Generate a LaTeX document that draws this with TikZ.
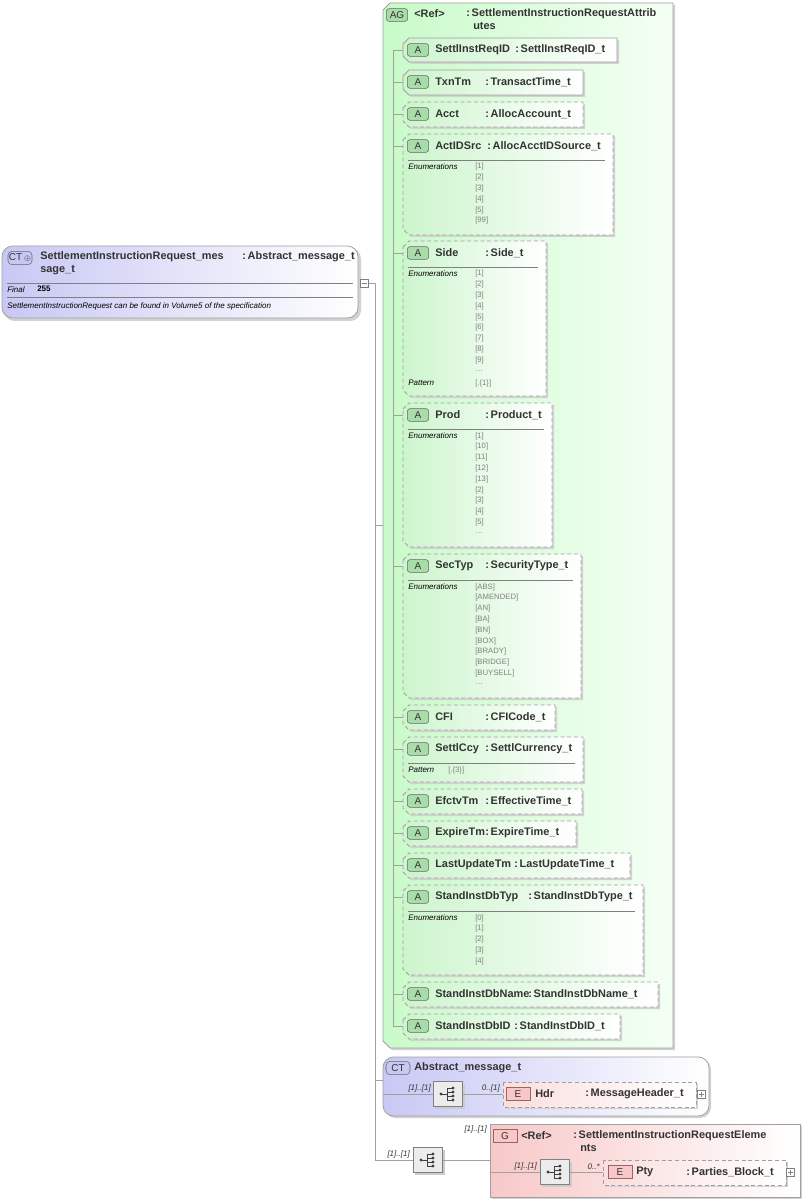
\documentclass[tikz,border=0pt]{standalone}
\usepackage{fontspec}
\setmainfont{Liberation Sans}
\definecolor{txt}{HTML}{333333}
\definecolor{attrL}{HTML}{CDF5CD}
\definecolor{tagG}{HTML}{A8DCA8}
\definecolor{ctL}{HTML}{C8C8F5}
\definecolor{pinkL}{HTML}{F8C8C8}
\definecolor{lineg}{HTML}{A0A0A0}
\tikzset{
 lbl/.style={anchor=west,inner sep=0pt,font=\fontsize{8.2}{9}\selectfont\bfseries,text=txt},
 sml/.style={anchor=west,inner sep=0pt,font=\fontsize{6}{6.8}\selectfont\itshape,text=black},
 enumv/.style={anchor=west,inner sep=0pt,font=\fontsize{5.8}{6.4}\selectfont,text=gray},
 conn/.style={draw=lineg,line width=0.5pt},
 sepl/.style={draw=gray,line width=0.4pt},
 dashbox/.style={draw=lineg,dash pattern=on 3pt off 2pt,line width=0.6pt},
 solbox/.style={draw=lineg,line width=0.6pt},
 tagA/.style={draw=gray!80!black,fill=tagG,rounded corners=2pt,minimum width=16pt,minimum height=9.5pt,inner sep=0pt,font=\fontsize{7.5}{8}\selectfont,text=txt},
 tagE/.style={draw=gray!80!red,fill=pinkL,minimum width=18pt,minimum height=10pt,inner sep=0pt,font=\fontsize{7.5}{8}\selectfont,text=txt},
 tagCT/.style={draw=gray!80!black,fill=ctL,rounded corners=3pt,minimum width=18pt,minimum height=10pt,inner sep=0pt,font=\fontsize{7.5}{8}\selectfont,text=txt},
 seqbox/.style={draw=gray,fill=gray!15,minimum width=22pt,minimum height=19pt,inner sep=0pt},
 card/.style={inner sep=0pt,font=\fontsize{6}{6.8}\selectfont\itshape,text=txt},
}
\newcommand\attr[8]{%
 \fill[gray!35] (405,#4+8) -- (411,#4+2) -- (#6+2,#4+2) -- (#6+2,#5+2) -- (411,#5+2) -- (405,#5-4) -- cycle;
 \path[#8,left color=attrL,right color=white] (403,#4+6) -- (409,#4) -- (#6,#4) -- (#6,#5) -- (409,#5) -- (403,#5-6) -- cycle;
 \draw[conn] (393,#4+12) -- (403,#4+12);
 \node[tagA] (#1) at (418,#4+12) {A};
 \node[lbl] at (435,#4+12) {#2};
 \node[lbl] at (#7,#4+12) {:\,#3};
}
\newcommand\enums[3]{%
 \draw[sepl] (408,#1) -- (#2-8,#1);
 \node[sml] at (408,#1+7) {Enumerations};
 \foreach \v [count=\i] in {#3} \node[enumv] at (475,#1+7+\i*10.8-10.8) {\v};
}
\newcommand\enumdots[1]{\node[enumv] at (475,#1) {\ldots};}
\newcommand\seqicon[3]{%
 \fill[gray!40] (#2-15+2,#3-12.5+2) rectangle (#2+15+2,#3+12.5+2);
 \node[seqbox] (#1) at (#2,#3) {};
 \fill[black!75] (#2-7,#3) circle (1.6);
 \draw[black!75,line width=0.5pt] (#2-7,#3) -- (#2-1,#3) (#2-1,#3-6) -- (#2-1,#3+6) (#2-1,#3-6) -- (#2+5,#3-6) (#2-1,#3-2) -- (#2+5,#3-2) (#2-1,#3+2) -- (#2+5,#3+2) (#2-1,#3+6) -- (#2+5,#3+6);
 \foreach \dy in {-6,-2,2,6} \fill[black!75] (#2+5,#3+\dy) circle (1.6);
}
\newcommand\plusbox[2]{%
 \draw[gray,fill=white] (#1-4,#2-4) rectangle (#1+4,#2+4);
 \draw[gray] (#1-2.5,#2) -- (#1+2.5,#2) (#1,#2-2.5) -- (#1,#2+2.5);
}
\begin{document}
\begin{tikzpicture}[x=0.75pt,y=-0.75pt]
\useasboundingbox (0,0) rectangle (805,1201);
% main CT
\fill[gray!35,rounded corners=8pt] (4,248) rectangle (361,321);
\path[draw=lineg,left color=ctL,right color=white,rounded corners=8pt,line width=0.6pt] (2,246) rectangle (358,318);
\node[tagCT] (ctmain) at (20,258) {CT\,$\scriptscriptstyle\oplus$};
\node[lbl] at (40,257) {SettlementInstructionRequest\_mes};
\node[lbl] at (40,270) {sage\_t};
\node[lbl] at (242,257) {:\,Abstract\_message\_t};
\draw[sepl] (7,283) -- (353,283);
\node[sml] at (7,290) {Final};
\node[anchor=west,inner sep=0pt,font=\fontsize{6}{6.8}\selectfont\bfseries] at (37,289) {255};
\draw[sepl] (7,297) -- (353,297);
\node[sml] at (7,306) {SettlementInstructionRequest can be found in Volume5 of the specification};
% main connector
\draw[conn] (369,283) -- (375,283) -- (375,1160);
\draw[gray,fill=white] (360,279) rectangle (368,287);
\draw[gray] (361.5,283) -- (366.5,283);
\draw[conn] (375,525) -- (383,525);
\draw[conn] (375,1080) -- (383,1080);
% AG box
\fill[gray!35] (385,12) -- (392,5) -- (675,5) -- (675,1050) -- (392,1050) -- (385,1043) -- cycle;
\path[draw=lineg,line width=0.6pt,left color=attrL!80!green!60,right color=green!4] (383,10) -- (390,3) -- (673,3) -- (673,1048) -- (390,1048) -- (383,1041) -- cycle;
\node[tagA,fill=tagG] (ag) at (397,15) {AG};
\node[lbl] at (414,14) {<Ref>};
\node[lbl] at (466,14) {:\,SettlementInstructionRequestAttrib};
\node[lbl] at (473,26) {utes};
\draw[conn] (393,50) -- (393,1026);
\attr{a1}{SettlInstReqID}{SettlInstReqID\_t}{38}{62}{617}{515}{solbox}
\attr{a2}{TxnTm}{TransactTime\_t}{70}{95}{583}{485}{solbox}
\attr{a3}{Acct}{AllocAccount\_t}{102}{127}{583}{485}{dashbox}
\attr{a4}{ActIDSrc}{AllocAcctIDSource\_t}{134}{235}{613}{487}{dashbox}
\enums{160}{613}{[1],[2],[3],[4],[5],[99]}
\attr{a5}{Side}{Side\_t}{241}{396}{546}{485}{dashbox}
\enums{267}{546}{[1],[2],[3],[4],[5],[6],[7],[8],[9]}
\enumdots{371}
\node[sml] at (408,383) {Pattern};
\node[enumv] at (475,383) {[.\{1\}]};
\attr{a6}{Prod}{Product\_t}{403}{547}{552}{485}{dashbox}
\enums{429}{552}{[1],[10],[11],[12],[13],[2],[3],[4],[5]}
\enumdots{533}
\attr{a7}{SecTyp}{SecurityType\_t}{554}{698}{581}{485}{dashbox}
\enums{580}{581}{[ABS],[AMENDED],[AN],[BA],[BN],[BOX],[BRADY],[BRIDGE],[BUYSELL]}
\enumdots{684}
\attr{a8}{CFI}{CFICode\_t}{705}{730}{555}{485}{dashbox}
\attr{a9}{SettlCcy}{SettlCurrency\_t}{737}{782}{583}{485}{dashbox}
\draw[sepl] (408,763) -- (575,763);
\node[sml] at (408,770) {Pattern};
\node[enumv] at (448,770) {[.\{3\}]};
\attr{a10}{EfctvTm}{EffectiveTime\_t}{789}{814}{582}{485}{dashbox}
\attr{a11}{ExpireTm}{ExpireTime\_t}{821}{846}{576}{485}{dashbox}
\attr{a12}{LastUpdateTm}{LastUpdateTime\_t}{853}{878}{630}{514}{dashbox}
\attr{a13}{StandInstDbTyp}{StandInstDbType\_t}{885}{975}{643}{528}{dashbox}
\enums{911}{643}{[0],[1],[2],[3],[4]}
\attr{a14}{StandInstDbName}{StandInstDbName\_t}{982}{1007}{658}{528}{dashbox}
\attr{a15}{StandInstDbID}{StandInstDbID\_t}{1014}{1039}{620}{514}{dashbox}
% CT Abstract
\fill[gray!35,rounded corners=8pt] (385,1059) rectangle (711,1118);
\path[draw=lineg,left color=ctL,right color=white,rounded corners=8pt,line width=0.6pt] (383,1057) rectangle (709,1116);
\node[tagCT] (ct2) at (398,1068) {CT};
\node[lbl] at (414,1068) {Abstract\_message\_t};
\seqicon{s1}{448}{1094}
\draw[conn] (383,1094) -- (s1.west);
\node[card,anchor=south east] at (431,1092) {[1]..[1]};
\fill[gray!35] (505,1084) rectangle (698,1109);
\path[dashbox,left color=pinkL!60,right color=white] (503,1082) rectangle (696,1107);
\coordinate (hdrw) at (503,1094);
\draw[conn] (s1.east) -- (hdrw);
\node[card,anchor=south east] at (500,1092) {0..[1]};
\node[tagE] (e1) at (518,1094) {E};
\node[lbl] at (535,1094) {Hdr};
\node[lbl] at (585,1094) {:\,MessageHeader\_t};
\plusbox{701}{1094}
% bottom sequence
\seqicon{s2}{428}{1160}
\draw[conn] (375,1160) -- (s2.west);
\node[card,anchor=south east] at (410,1158) {[1]..[1]};
\fill[gray!35] (492,1126) rectangle (802,1199);
\path[draw=lineg,line width=0.6pt,left color=pinkL,right color=white] (490,1124) rectangle (800,1197);
\coordinate (gw) at (490,1160);
\draw[conn] (s2.east) -- (gw);
\node[card,anchor=south east] at (487,1133) {[1]..[1]};
\node[tagE] (g) at (505,1136) {G};
\node[lbl] at (521,1136) {<Ref>};
\node[lbl] at (573,1136) {:\,SettlementInstructionRequestEleme};
\node[lbl] at (580,1148) {nts};
\seqicon{s3}{555}{1172}
\draw[conn] (490,1172) -- (s3.west);
\node[card,anchor=south east] at (537,1170) {[1]..[1]};
\fill[gray!35] (605,1162) rectangle (788,1187);
\path[dashbox,left color=pinkL!60,right color=white] (603,1160) rectangle (786,1185);
\coordinate (ptyw) at (603,1172);
\draw[conn] (s3.east) -- (ptyw);
\node[card,anchor=south east] at (600,1170) {0..*};
\node[tagE] (e2) at (620,1172) {E};
\node[lbl] at (636,1172) {Pty};
\node[lbl] at (686,1172) {:\,Parties\_Block\_t};
\plusbox{790}{1172}
\end{tikzpicture}
\end{document}
